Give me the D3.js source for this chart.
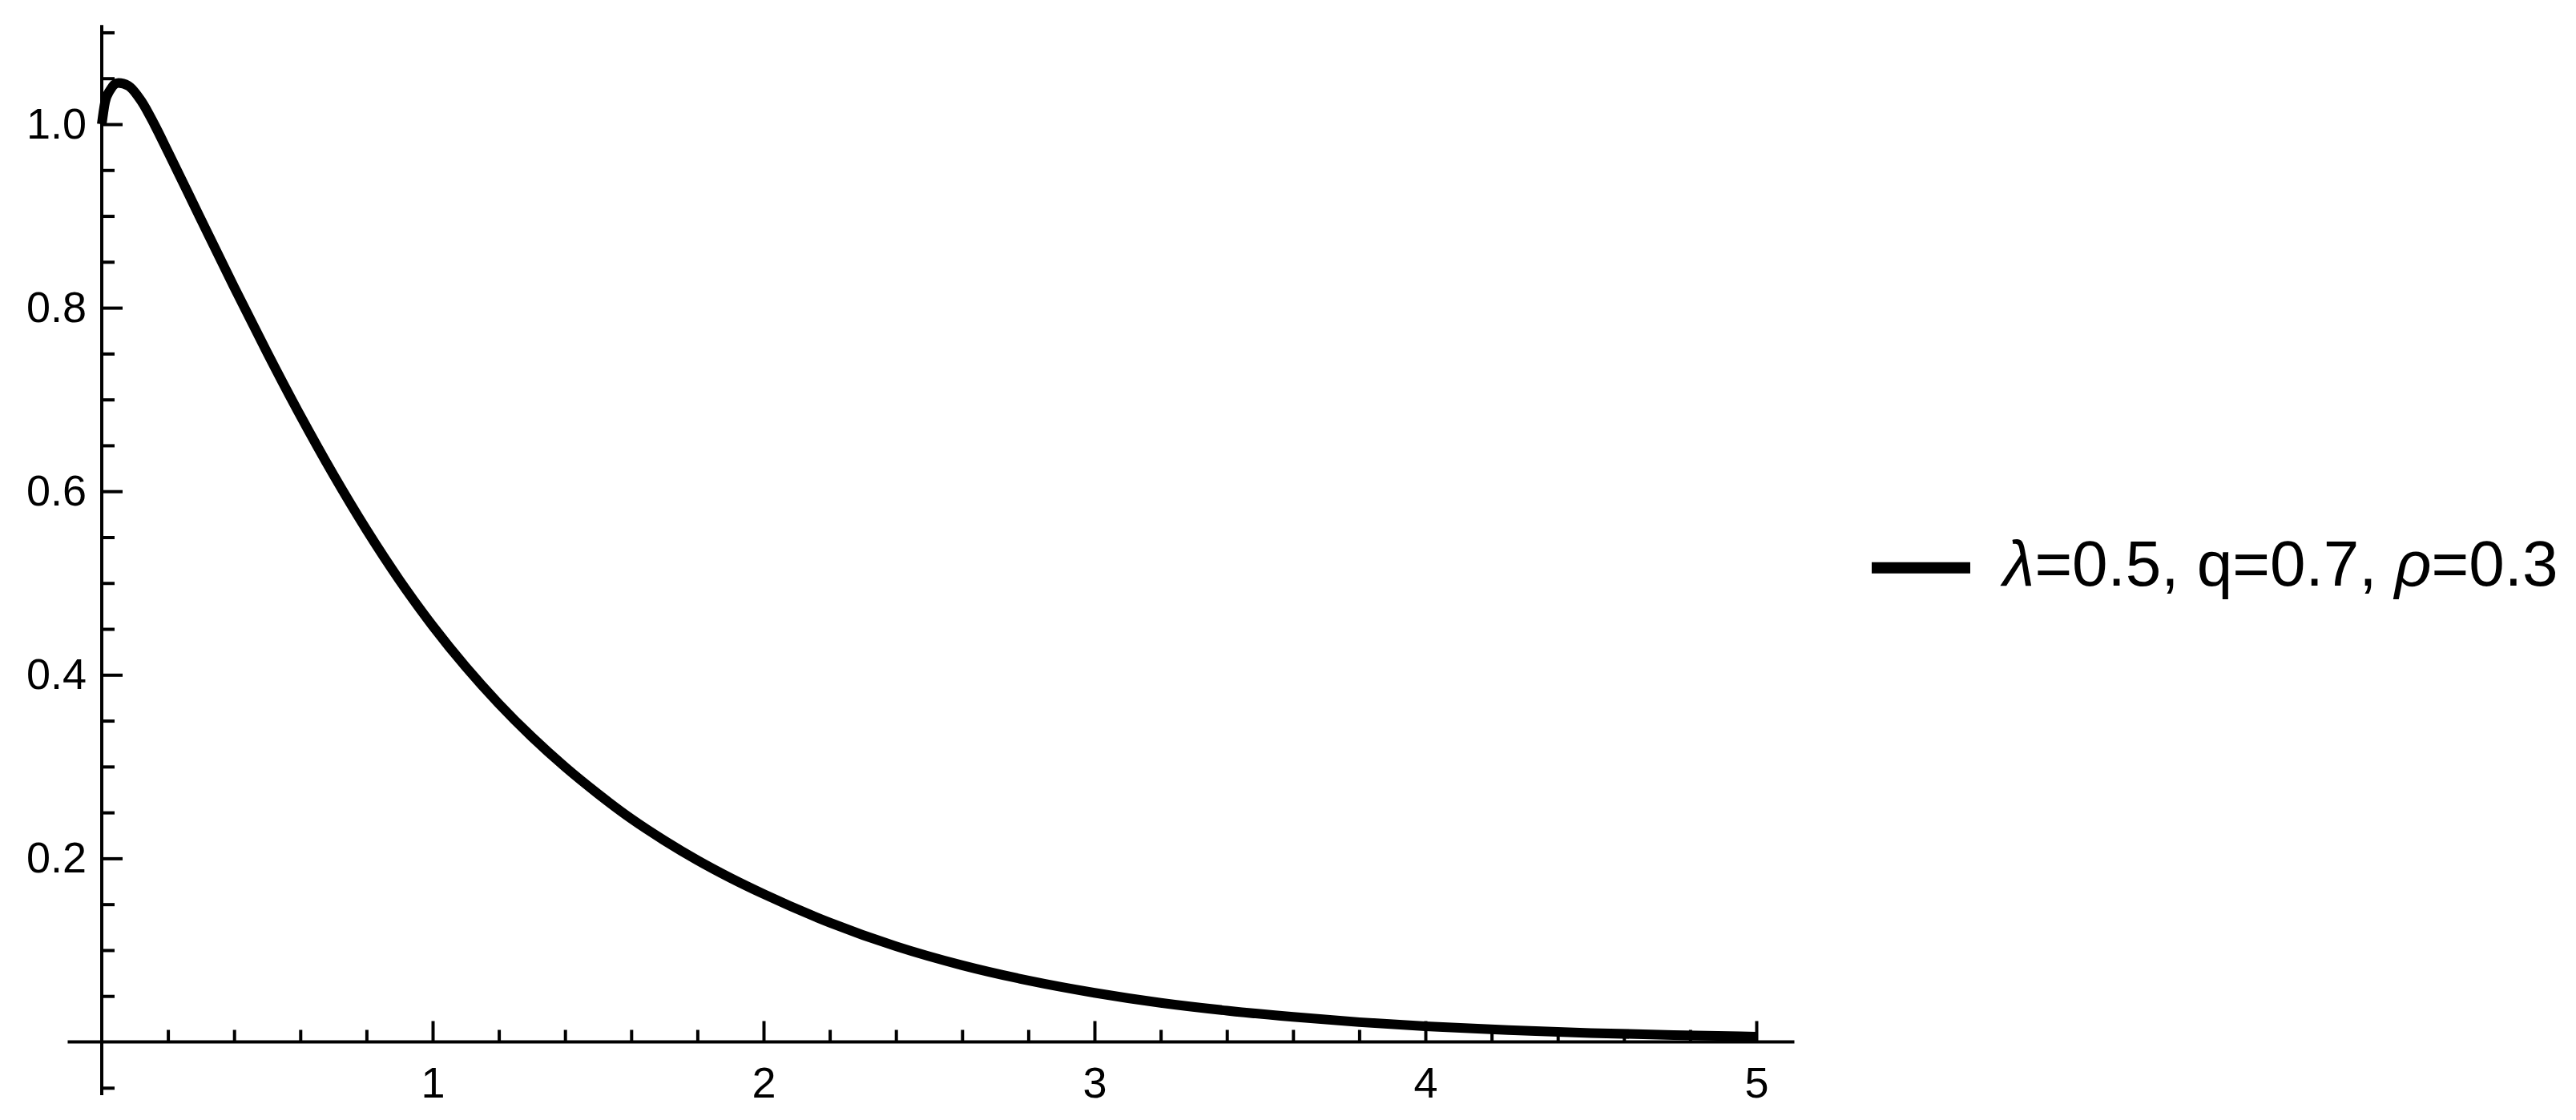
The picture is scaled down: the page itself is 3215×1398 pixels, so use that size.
<!DOCTYPE html>
<html>
<head>
<meta charset="utf-8">
<script src="https://cdn.jsdelivr.net/npm/d3@7"></script>
<style>
  html, body { margin: 0; padding: 0; background: #fff; }
  svg { display: block; }
  text { font-family: "Liberation Sans", Arial, sans-serif; }
</style>
</head>
<body>
<div id="chart"></div>
<script>
// values
const xs = [0, 0.01, 0.025, 0.05, 0.08, 0.12, 0.16, 0.2, 0.3, 0.4, 0.5, 0.6, 0.7, 0.8, 0.9,
  1.0, 1.1, 1.2, 1.3, 1.4, 1.5, 1.6, 1.7, 1.8, 1.9, 2.0, 2.2, 2.4, 2.6, 2.8,
  3.0, 3.2, 3.4, 3.6, 3.8, 4.0, 4.25, 4.5, 4.75, 5.0];
const ys = [1.0, 1.024, 1.037, 1.045, 1.042, 1.025, 0.999, 0.970, 0.896, 0.8225, 0.751, 0.6825, 0.618, 0.558, 0.503,
  0.4533, 0.4086, 0.3684, 0.3322, 0.2996, 0.2702, 0.2432, 0.2195, 0.198, 0.1787, 0.1612, 0.130, 0.1042, 0.0835, 0.0669,
  0.0535, 0.0426, 0.0341, 0.0272, 0.0215, 0.017, 0.0128, 0.0097, 0.0074, 0.0057];

const xMajor = [1, 2, 3, 4, 5];
const xMinor = [0.2, 0.4, 0.6, 0.8, 1.2, 1.4, 1.6, 1.8, 2.2, 2.4, 2.6, 2.8,
  3.2, 3.4, 3.6, 3.8, 4.2, 4.4, 4.6, 4.8];
const yMajor = [0.2, 0.4, 0.6, 0.8, 1.0];
const yMinor = [-0.05, 0.05, 0.1, 0.15, 0.25, 0.3, 0.35, 0.45, 0.5, 0.55,
  0.65, 0.7, 0.75, 0.85, 0.9, 0.95, 1.05, 1.1];
const xExtent = [-0.103, 5.115];
const yExtent = [-0.058, 1.108];
const legendLabel = [
  {t: 'λ', italic: true}, {t: '=0.5, q=0.7, '},
  {t: 'ρ', italic: true}, {t: '=0.3'}
];

const W = 3215, H = 1398;
const svg = d3.select('#chart').append('svg')
  .attr('width', W)
  .attr('height', H);

const x = d3.scaleLinear().domain([0, 5]).range([127, 2192]);
const y = d3.scaleLinear().domain([0, 1]).range([1300.5, 155]);

const fontSize = 54;
const axisW = 4;

// axes lines (Mathematica style, crossing at origin)
svg.append('line')
  .attr('x1', x(xExtent[0])).attr('x2', x(xExtent[1]))
  .attr('y1', y(0)).attr('y2', y(0))
  .attr('stroke', '#000').attr('stroke-width', axisW);
svg.append('line')
  .attr('x1', x(0)).attr('x2', x(0))
  .attr('y1', y(yExtent[0])).attr('y2', y(yExtent[1]))
  .attr('stroke', '#000').attr('stroke-width', axisW);

function styleAxis(g) {
  g.select('.domain').remove();
  g.selectAll('line').attr('stroke', '#000').attr('stroke-width', axisW);
  g.selectAll('text')
    .attr('font-size', fontSize)
    .attr('font-family', '"Liberation Sans", Arial, sans-serif')
    .attr('fill', '#000');
}

// x ticks point up into the plot
svg.append('g')
  .attr('transform', `translate(0,${y(0)})`)
  .call(d3.axisBottom(x).tickValues(xMinor).tickSizeInner(-15).tickSizeOuter(0).tickFormat(''))
  .call(styleAxis);
svg.append('g')
  .attr('transform', `translate(0,${y(0)})`)
  .call(d3.axisBottom(x).tickValues(xMajor).tickSizeInner(-26).tickSizeOuter(0)
    .tickPadding(31).tickFormat(d3.format('d')))
  .call(styleAxis);

// y ticks point right, labels on the left
svg.append('g')
  .attr('transform', `translate(${x(0)},0)`)
  .call(d3.axisLeft(y).tickValues(yMinor).tickSizeInner(-16).tickSizeOuter(0).tickFormat(''))
  .call(styleAxis);
svg.append('g')
  .attr('transform', `translate(${x(0)},0)`)
  .call(d3.axisLeft(y).tickValues(yMajor).tickSizeInner(-26).tickSizeOuter(0)
    .tickPadding(19).tickFormat(d3.format('.1f')))
  .call(styleAxis);

// the curve
const pts = xs.map((v, i) => [v, ys[i]]);
const line = d3.line()
  .x(d => x(d[0]))
  .y(d => y(d[1]))
  .curve(d3.curveMonotoneX);
svg.append('path')
  .datum(pts)
  .attr('d', line)
  .attr('fill', 'none')
  .attr('stroke', '#000')
  .attr('stroke-width', 12);

// legend
const leg = svg.append('g').attr('transform', 'translate(2336,708.7)');
leg.append('line')
  .attr('x1', 0).attr('x2', 123)
  .attr('y1', 0).attr('y2', 0)
  .attr('stroke', '#000').attr('stroke-width', 14);
const lt = leg.append('text')
  .attr('x', 164)
  .attr('y', 22)
  .attr('font-size', 80)
  .attr('fill', '#000');
lt.selectAll('tspan').data(legendLabel).join('tspan')
  .attr('font-style', d => d.italic ? 'italic' : 'normal')
  .text(d => d.t);
</script>
</body>
</html>
